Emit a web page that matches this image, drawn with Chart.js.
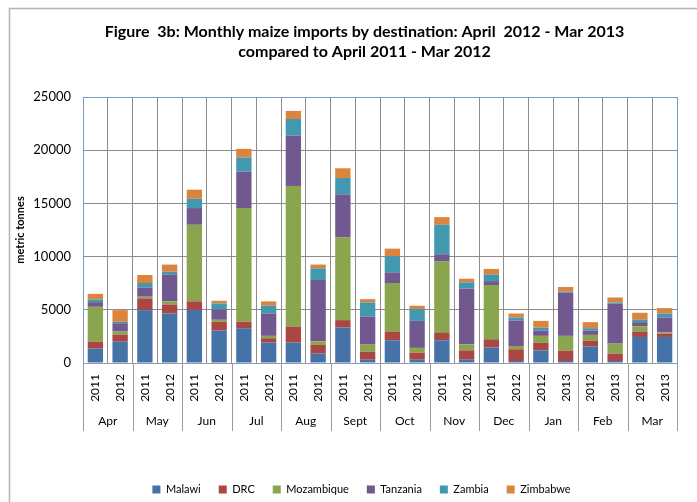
<!DOCTYPE html>
<html>
<head>
<meta charset="utf-8">
<script src="https://cdn.jsdelivr.net/npm/chart.js@4/dist/chart.umd.min.js"></script>
<style>
html,body{margin:0;padding:0;background:#fff;}
#wrap{width:697px;height:502px;position:relative;}
</style>
</head>
<body>
<div id="wrap"><canvas id="c" width="697" height="502"></canvas></div>
<script>
const years = ['2011','2012','2011','2012','2011','2012','2011','2012','2011','2012','2011','2012','2011','2012','2011','2012','2011','2012','2012','2013','2012','2013','2012','2013'];
const months = ['Apr','May','Jun','Jul','Aug','Sept','Oct','Nov','Dec','Jan','Feb','Mar'];
const malawi = [1350,2000,4970,4650,4970,3050,3270,1920,1920,880,3330,310,2140,310,2140,310,1450,190,1190,190,1540,190,2450,2450];
const drc = [650,670,1100,850,820,820,600,410,1510,820,700,760,820,660,690,880,780,1100,730,970,570,690,510,320];
const mozambique = [3280,290,160,290,7200,190,10690,220,13210,340,7760,660,4560,450,6700,540,5100,310,630,1390,530,940,500,120];
const tanzania = [440,780,870,2540,1570,970,3430,2100,4720,5760,4060,2640,1000,2540,690,5280,370,2390,500,4050,410,3750,380,1390];
const zambia = [250,130,420,250,880,570,1320,730,1570,1100,1540,1320,1510,1100,2770,570,630,290,280,100,220,120,220,370];
const zimbabwe = [530,1100,750,670,850,250,820,410,760,350,910,310,720,320,720,340,510,370,630,440,570,470,660,510];
const yTicks = [0,5000,10000,15000,20000,25000];

const FONT = 'Lato, "Open Sans", sans-serif';

const separators = {
  id: 'separators',
  afterDraw(chart) {
    const xs = chart.scales.x, x2 = chart.scales.x2;
    const ctx = chart.ctx;
    const top = xs.top, bottom = x2.bottom;
    const pos = [xs.left];
    for (let k = 1; k < months.length; k++) {
      pos.push((xs.getPixelForValue(2*k-1) + xs.getPixelForValue(2*k)) / 2);
    }
    pos.push(xs.right);
    ctx.save();
    ctx.strokeStyle = '#9a9a9a';
    ctx.lineWidth = 1;
    pos.forEach(p => {
      const px = Math.round(p) + 0.5;
      ctx.beginPath();
      ctx.moveTo(px, top);
      ctx.lineTo(px, bottom);
      ctx.stroke();
    });
    ctx.restore();
  }
};

const shifter = {
  id: 'shifter',
  afterLayout(chart) {
    const t = chart.titleBlock, l = chart.legend;
    if (t) { t.left += 20; t.right += 20; }
    if (l) {
      const h = l.height;
      l.left += 17; l.right += 17;
      l.top = 466; l.bottom = 466 + h;
    }
  }
};

const frame = {
  id: 'frame',
  beforeDraw(chart) {
    const ctx = chart.ctx;
    ctx.save();
    ctx.strokeStyle = '#b4b4b4';
    ctx.lineWidth = 1.5;
    ctx.beginPath();
    ctx.moveTo(9.5, chart.height);
    ctx.lineTo(9.5, 8.5);
    ctx.lineTo(chart.width, 8.5);
    ctx.stroke();
    ctx.restore();
  }
};

const plotBorder = {
  id: 'plotBorder',
  afterDraw(chart) {
    const a = chart.chartArea, ctx = chart.ctx;
    ctx.save();
    ctx.strokeStyle = '#7a9cc8';
    ctx.lineWidth = 1;
    ctx.beginPath();
    ctx.moveTo(Math.round(a.left)+0.5, Math.round(a.top)+0.5);
    ctx.lineTo(Math.round(a.right)+0.5, Math.round(a.top)+0.5);
    ctx.lineTo(Math.round(a.right)+0.5, Math.round(a.bottom));
    ctx.stroke();
    ctx.restore();
  }
};

const mk = (label, data, color) => ({label, data, backgroundColor: color, borderWidth: 0, xAxisID: 'x', barPercentage: 0.62, categoryPercentage: 1.0});

new Chart(document.getElementById('c'), {
  type: 'bar',
  data: {
    labels: years,
    datasets: [
      mk('Malawi', malawi, '#4572A7'),
      mk('DRC', drc, '#AA4643'),
      mk('Mozambique', mozambique, '#89A54E'),
      mk('Tanzania', tanzania, '#71588F'),
      mk('Zambia', zambia, '#4198AF'),
      mk('Zimbabwe', zimbabwe, '#DB843D')
    ]
  },
  options: {
    responsive: false,
    animation: false,
    devicePixelRatio: 1,
    layout: {padding: {top: 8, left: 12, right: 20, bottom: 32}},
    plugins: {
      title: {
        display: true,
        text: ['Figure  3b: Monthly maize imports by destination: April  2012 - Mar 2013', 'compared to April 2011 - Mar 2012'],
        color: '#000',
        font: {family: FONT, size: 16, weight: 'bold', lineHeight: 1.25},
        padding: {top: 14, bottom: 35}
      },
      legend: {
        position: 'bottom',
        labels: {
          boxWidth: 8, boxHeight: 8, color: '#000',
          font: {family: FONT, size: 11},
          padding: 18
        }
      },
      tooltip: {enabled: false}
    },
    scales: {
      x: {
        stacked: true,
        offset: true,
        grid: {display: true, offset: true, color: '#8c8c8c', drawTicks: false},
        border: {display: true, color: '#8a9ab8'},
        ticks: {
          minRotation: 90, maxRotation: 90, autoSkip: false,
          color: '#000', font: {family: FONT, size: 12}, padding: 11
        },
        afterFit: (s) => { s.height = 40; }
      },
      x2: {
        type: 'category',
        labels: months,
        position: 'bottom',
        offset: true,
        grid: {display: false, drawTicks: false},
        border: {display: false},
        ticks: {color: '#000', font: {family: FONT, size: 12}, padding: 11, autoSkip: false},
        afterFit: (s) => { s.height = 28; }
      },
      y: {
        stacked: true,
        min: 0, max: 25000,
        afterBuildTicks: (s) => { s.ticks = yTicks.map(v => ({value: v})); },
        grid: {color: '#8c8c8c', drawTicks: false},
        border: {display: true, color: '#7a9cc8'},
        ticks: {
          color: '#000', font: {family: FONT, size: 13}, padding: 12,
          callback: (v) => String(v)
        },
        title: {display: true, text: 'metric tonnes', color: '#000', font: {family: FONT, size: 11, weight: 'bold'}, padding: {top: 2, bottom: 6}},
        afterFit: (s) => { s.width = 71; }
      }
    }
  },
  plugins: [frame, shifter, separators, plotBorder]
});
</script>
</body>
</html>
